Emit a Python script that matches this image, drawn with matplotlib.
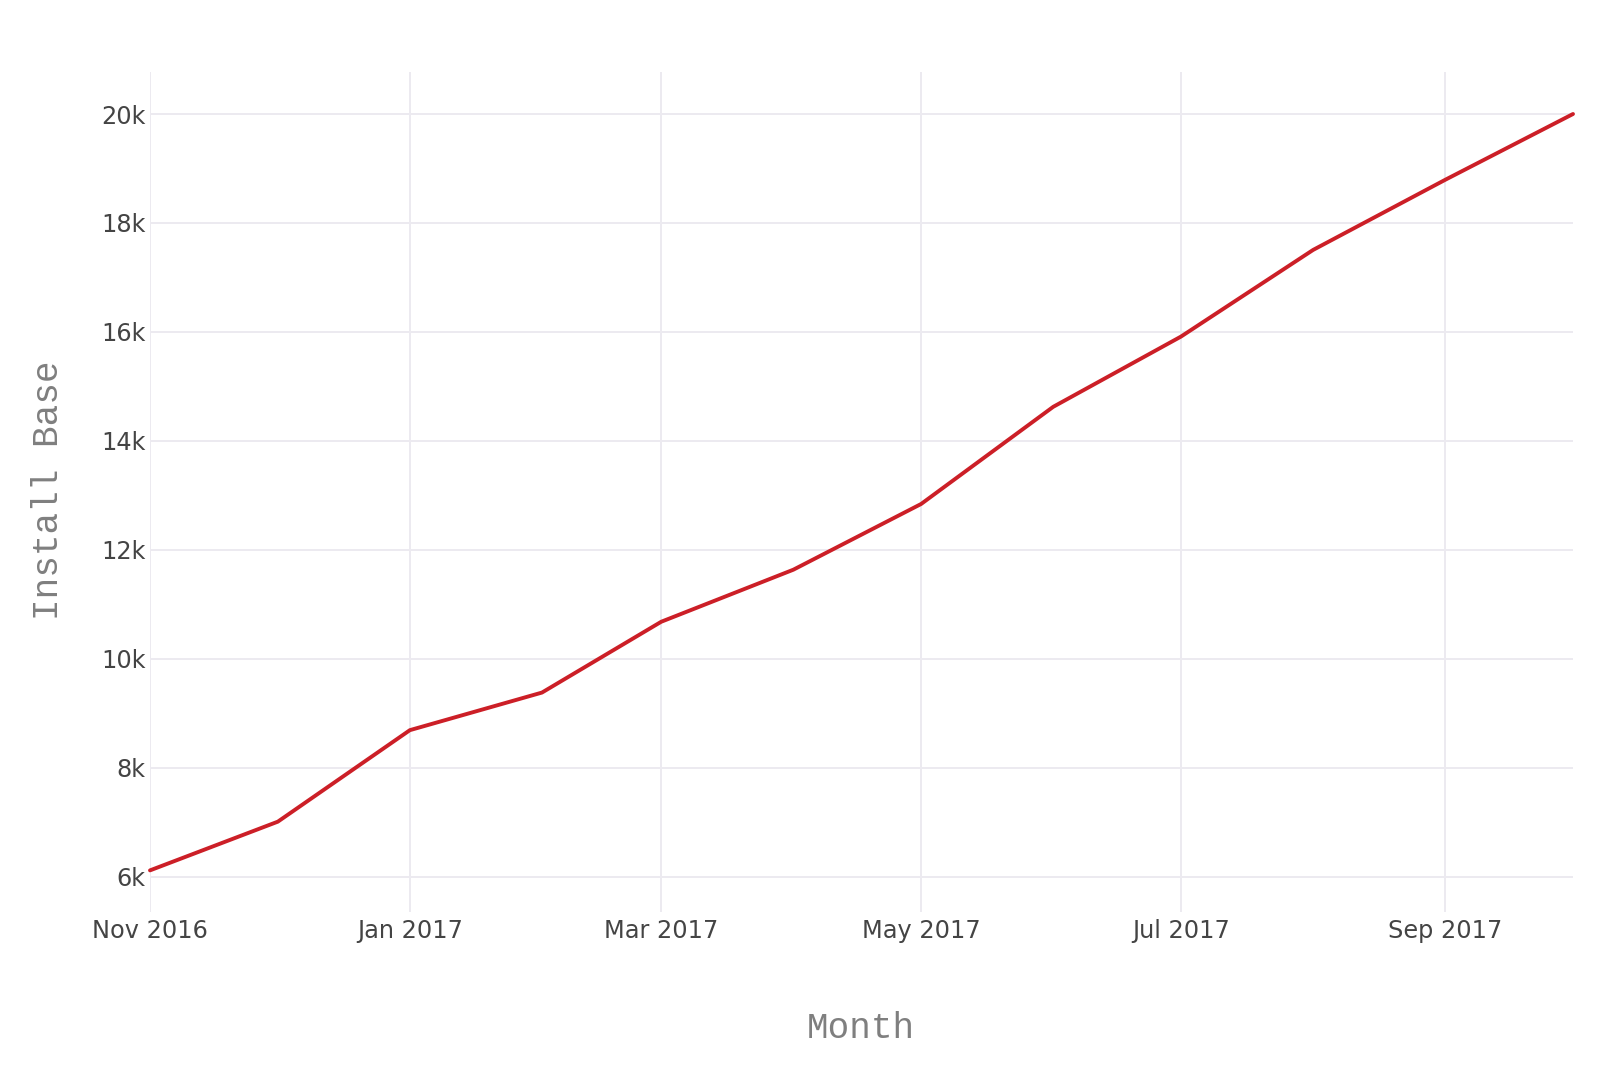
import matplotlib
matplotlib.use("Agg")
import matplotlib.pyplot as plt
import datetime as dt

plt.rcParams["font.family"] = ["DejaVu Sans"]

months = ["2016-11-01", "2016-12-01", "2017-01-01", "2017-02-01", "2017-03-01", "2017-04-01",
          "2017-05-01", "2017-06-01", "2017-07-01", "2017-08-01", "2017-09-01", "2017-10-01"]
install_base = [6116, 7010, 8690, 9380, 10680, 11635, 12842, 14625, 15915, 17505, 18792, 20000]

y_ticks = [6000, 8000, 10000, 12000, 14000, 16000, 18000, 20000]
y_tick_labels = ["6k", "8k", "10k", "12k", "14k", "16k", "18k", "20k"]
x_ticks = ["2016-11-01", "2017-01-01", "2017-03-01", "2017-05-01", "2017-07-01", "2017-09-01"]
x_tick_labels = ["Nov 2016", "Jan 2017", "Mar 2017", "May 2017", "Jul 2017", "Sep 2017"]

x_title = "Month"
y_title = "Install Base"

W, H = 1600, 1088
fig = plt.figure(figsize=(W / 100, H / 100), dpi=100)
fig.patch.set_facecolor("white")

left, right, top, bottom = 150, 1573, 72, 912
ax = fig.add_axes([left / W, 1 - bottom / H, (right - left) / W, (bottom - top) / H])
ax.set_facecolor("white")

dates = [dt.datetime.strptime(m, "%Y-%m-%d") for m in months]
ax.plot(dates, install_base, color="#cc1f27", linewidth=2.8, solid_joinstyle="round",
        solid_capstyle="round", zorder=3, clip_on=False)

ax.set_xlim(dates[0], dates[-1])
ax.set_ylim(5352, 20771)

ax.set_yticks(y_ticks)
ax.set_yticklabels(y_tick_labels, family="DejaVu Sans")
xt = [dt.datetime.strptime(m, "%Y-%m-%d") for m in x_ticks]
ax.set_xticks(xt)
ax.set_xticklabels(x_tick_labels, family="DejaVu Sans")

for s in ax.spines.values():
    s.set_visible(False)

ax.grid(True, color="#eceaf0", linewidth=1.4, zorder=0)
ax.set_axisbelow(True)
ax.tick_params(axis="both", length=0, labelsize=17.3, labelcolor="#444444")
ax.tick_params(axis="y", pad=3)
ax.tick_params(axis="x", pad=5)

fig.text(861 / W, 1 - 1029 / H, x_title, ha="center", va="center",
         fontsize=25.9, color="#7f7f7f", family="Liberation Mono")
fig.text(49 / W, 1 - 490 / H, y_title, ha="center", va="center", rotation=90,
         fontsize=25.9, color="#7f7f7f", family="Liberation Mono")

fig.savefig("out.png", dpi=100)
